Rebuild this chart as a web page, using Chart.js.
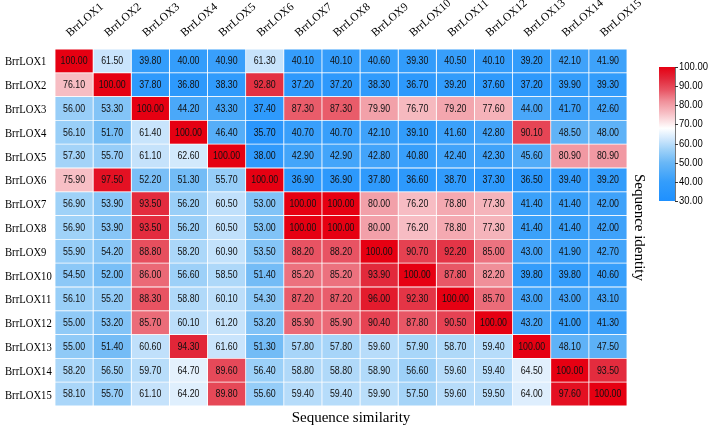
<!DOCTYPE html>
<html>
<head>
<meta charset="utf-8">
<script src="https://cdn.jsdelivr.net/npm/chart.js@4.4.1/dist/chart.umd.min.js"></script>
<style>
  html, body { margin: 0; padding: 0; background: #fff; }
  #wrap { width: 711px; height: 428px; }
</style>
</head>
<body>
<div id="wrap"><canvas id="heat" width="711" height="428"></canvas></div>
<script>
const rowNames = ["BrrLOX1", "BrrLOX2", "BrrLOX3", "BrrLOX4", "BrrLOX5", "BrrLOX6", "BrrLOX7", "BrrLOX8",
  "BrrLOX9", "BrrLOX10", "BrrLOX11", "BrrLOX12", "BrrLOX13", "BrrLOX14", "BrrLOX15"];
const colNames = rowNames.slice();

// one array per row, identity above / similarity below the diagonal
const lox1 = [100.00, 61.50, 39.80, 40.00, 40.90, 61.30, 40.10, 40.10, 40.60, 39.30, 40.50, 40.10, 39.20, 42.10, 41.90];
const lox2 = [76.10, 100.00, 37.80, 36.80, 38.30, 92.80, 37.20, 37.20, 38.30, 36.70, 39.20, 37.60, 37.20, 39.90, 39.30];
const lox3 = [56.00, 53.30, 100.00, 44.20, 43.30, 37.40, 87.30, 87.30, 79.90, 76.70, 79.20, 77.60, 44.00, 41.70, 42.60];
const lox4 = [56.10, 51.70, 61.40, 100.00, 46.40, 35.70, 40.70, 40.70, 42.10, 39.10, 41.60, 42.80, 90.10, 48.50, 48.00];
const lox5 = [57.30, 55.70, 61.10, 62.60, 100.00, 38.00, 42.90, 42.90, 42.80, 40.80, 42.40, 42.30, 45.60, 80.90, 80.90];
const lox6 = [75.90, 97.50, 52.20, 51.30, 55.70, 100.00, 36.90, 36.90, 37.80, 36.60, 38.70, 37.30, 36.50, 39.40, 39.20];
const lox7 = [56.90, 53.90, 93.50, 56.20, 60.50, 53.00, 100.00, 100.00, 80.00, 76.20, 78.80, 77.30, 41.40, 41.40, 42.00];
const lox8 = [56.90, 53.90, 93.50, 56.20, 60.50, 53.00, 100.00, 100.00, 80.00, 76.20, 78.80, 77.30, 41.40, 41.40, 42.00];
const lox9 = [55.90, 54.20, 88.80, 58.20, 60.90, 53.50, 88.20, 88.20, 100.00, 90.70, 92.20, 85.00, 43.00, 41.90, 42.70];
const lox10 = [54.50, 52.00, 86.00, 56.60, 58.50, 51.40, 85.20, 85.20, 93.90, 100.00, 87.80, 82.20, 39.80, 39.80, 40.60];
const lox11 = [56.10, 55.20, 88.30, 58.80, 60.10, 54.30, 87.20, 87.20, 96.00, 92.30, 100.00, 85.70, 43.00, 43.00, 43.10];
const lox12 = [55.00, 53.20, 85.70, 60.10, 61.20, 53.20, 85.90, 85.90, 90.40, 87.80, 90.50, 100.00, 43.20, 41.00, 41.30];
const lox13 = [55.00, 51.40, 60.60, 94.30, 61.60, 51.30, 57.80, 57.80, 59.60, 57.90, 58.70, 59.40, 100.00, 48.10, 47.50];
const lox14 = [58.20, 56.50, 59.70, 64.70, 89.60, 56.40, 58.80, 58.80, 58.90, 56.60, 59.60, 59.40, 64.50, 100.00, 93.50];
const lox15 = [58.10, 55.70, 61.10, 64.20, 89.80, 55.60, 59.40, 59.40, 59.90, 57.50, 59.60, 59.50, 64.00, 97.60, 100.00];
const values = [lox1, lox2, lox3, lox4, lox5, lox6, lox7, lox8, lox9, lox10, lox11, lox12, lox13, lox14, lox15];

const legendTicks = [30, 40, 50, 60, 70, 80, 90, 100];

// colour ramp blue -> white -> red
const stops = [
  [30, [30, 144, 255]], [40, [52, 157, 251]], [50, [105, 183, 246]], [57, [160, 210, 248]],
  [62, [205, 230, 252]], [68, [255, 255, 255]], [76, [247, 190, 196]], [82, [240, 145, 155]],
  [88, [232, 85, 100]], [94, [226, 40, 58]], [100, [230, 0, 18]]
];

function heatColor(v) {
  if (v <= stops[0][0]) return "rgb(" + stops[0][1].join(",") + ")";
  for (let k = 1; k < stops.length; k++) {
    if (v <= stops[k][0]) {
      const a = stops[k - 1], b = stops[k];
      const t = (v - a[0]) / (b[0] - a[0]);
      const c = a[1].map((x, n) => Math.round(x + (b[1][n] - x) * t));
      return "rgb(" + c.join(",") + ")";
    }
  }
  return "rgb(" + stops[stops.length - 1][1].join(",") + ")";
}

const serif = "'Liberation Serif', 'Times New Roman', serif";
const sans = "'Liberation Sans', Arial, sans-serif";

// text in the reference is a bit condensed
function condensedText(ctx, text, x, y, sx) {
  ctx.save();
  ctx.translate(x, y);
  ctx.scale(sx, 1);
  ctx.fillText(text, 0, 0);
  ctx.restore();
}

const heatText = {
  id: "heatText",
  afterDatasetsDraw(chart) {
    const ctx = chart.ctx;
    ctx.save();
    ctx.fillStyle = "#111";
    ctx.font = "10.5px " + sans;
    ctx.textAlign = "center";
    ctx.textBaseline = "middle";
    chart.data.datasets.forEach((ds, j) => {
      chart.getDatasetMeta(j).data.forEach((el, i) => {
        const p = el.getCenterPoint();
        condensedText(ctx, values[i][j].toFixed(2), p.x, p.y + 0.5, 0.84);
      });
    });
    ctx.restore();
  },
  afterDraw(chart) {
    const ctx = chart.ctx;
    const area = chart.chartArea;
    const yScale = chart.scales.y;
    const topScale = chart.scales.xTop;
    ctx.save();
    ctx.fillStyle = "#000";

    // row labels
    ctx.font = "13px " + serif;
    ctx.textAlign = "left";
    ctx.textBaseline = "middle";
    rowNames.forEach((name, i) => {
      condensedText(ctx, name, 5, yScale.getPixelForValue(i) + 1, 0.82);
    });

    // column labels, rotated
    ctx.font = "11.5px " + serif;
    ctx.textBaseline = "alphabetic";
    colNames.forEach((name, j) => {
      const x = topScale.getPixelForValue(j) - 4;
      ctx.save();
      ctx.translate(x, area.top - 12);
      ctx.rotate(-41 * Math.PI / 180);
      ctx.fillText(name, 0, 0);
      ctx.restore();
    });

    // axis titles
    ctx.font = "15px " + serif;
    ctx.textAlign = "center";
    ctx.textBaseline = "middle";
    ctx.fillText("Sequence similarity", 351, 418);
    ctx.save();
    ctx.translate(639, (area.top + area.bottom) / 2);
    ctx.rotate(Math.PI / 2);
    ctx.fillText("Sequence identity", 0, 0);
    ctx.restore();

    // colour bar
    const bx = 659, bw = 16, by = 67, bh = 134;
    const lo = legendTicks[0], hi = legendTicks[legendTicks.length - 1];
    const grad = ctx.createLinearGradient(0, by + bh, 0, by);
    stops.forEach(s => grad.addColorStop((s[0] - lo) / (hi - lo), "rgb(" + s[1].join(",") + ")"));
    ctx.fillStyle = grad;
    ctx.fillRect(bx, by, bw, bh);
    ctx.strokeStyle = "#777";
    ctx.lineWidth = 1;
    ctx.beginPath();
    ctx.moveTo(bx + bw + 0.5, by);
    ctx.lineTo(bx + bw + 0.5, by + bh);
    ctx.stroke();
    ctx.fillStyle = "#000";
    ctx.font = "11px " + sans;
    ctx.textAlign = "left";
    ctx.textBaseline = "middle";
    legendTicks.forEach(t => {
      const y = by + bh - (t - lo) / (hi - lo) * bh;
      ctx.strokeStyle = "#333";
      ctx.beginPath();
      ctx.moveTo(bx + bw, Math.round(y) + 0.5);
      ctx.lineTo(bx + bw + 3, Math.round(y) + 0.5);
      ctx.stroke();
      condensedText(ctx, t.toFixed(2), bx + bw + 4, y, 0.86);
    });
    ctx.restore();
  }
};

new Chart(document.getElementById("heat"), {
  type: "bar",
  data: {
    labels: rowNames,
    datasets: colNames.map((name, j) => ({
      label: name,
      data: rowNames.map(() => [j, j + 1]),
      backgroundColor: c => heatColor(values[c.dataIndex][j]),
      borderColor: "#ffffff",
      borderWidth: 0.75,
      borderSkipped: false,
      barPercentage: 1,
      categoryPercentage: 1
    }))
  },
  options: {
    indexAxis: "y",
    responsive: false,
    animation: false,
    layout: { padding: { left: 0, top: 0, right: 84, bottom: 22 } },
    plugins: { legend: { display: false }, tooltip: { enabled: false } },
    scales: {
      x: { type: "linear", min: 0, max: 15, stacked: false, display: false },
      xTop: {
        type: "category",
        labels: colNames,
        position: "top",
        offset: true,
        grid: { display: false },
        border: { display: false },
        ticks: { display: false },
        afterFit: s => { s.height = 49; }
      },
      y: {
        type: "category",
        stacked: true,
        grid: { display: false },
        border: { display: false },
        ticks: { display: false },
        afterFit: s => { s.width = 55; }
      }
    }
  },
  plugins: [heatText]
});
</script>
</body>
</html>
